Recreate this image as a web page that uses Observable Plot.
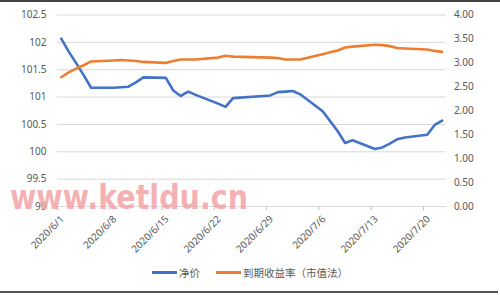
<!DOCTYPE html>
<html>
<head>
<meta charset="utf-8">
<script src="https://cdn.jsdelivr.net/npm/d3@7"></script>
<script src="https://cdn.jsdelivr.net/npm/@observablehq/plot@0.6"></script>
<style>
  body { margin: 0; background: #fff; }
  #wrap { position: relative; width: 500px; height: 295px; overflow: hidden; background: #fff; font-family: "Noto Sans CJK SC", "Noto Sans", sans-serif; }
  #topline { position: absolute; left: 0; top: 0; width: 500px; height: 1.5px; background: #444; }
  #botline { position: absolute; left: 0; top: 291px; width: 498px; height: 1.5px; background: #555; }
  #legend { position: absolute; left: 0; top: 263px; width: 500px; height: 20px; font-size: 10.5px; color: #595959; }
  .sw { position: absolute; top: 8px; width: 25px; height: 3px; }
  .lt { position: absolute; top: 0px; line-height: 19px; white-space: nowrap; }
  #wm { position: absolute; left: 0; top: 0; pointer-events: none; }
</style>
</head>
<body>
<div id="wrap">
  <div id="chart"></div>
  <div id="legend"></div>
  <div id="topline"></div>
  <div id="botline"></div>
</div>
<script>
const dates = ["2020-06-01","2020-06-02","2020-06-03","2020-06-04","2020-06-05",
  "2020-06-08","2020-06-09","2020-06-10","2020-06-11","2020-06-12",
  "2020-06-15","2020-06-16","2020-06-17","2020-06-18","2020-06-19",
  "2020-06-22","2020-06-23","2020-06-24","2020-06-29","2020-06-30",
  "2020-07-01","2020-07-02","2020-07-03","2020-07-06","2020-07-07",
  "2020-07-08","2020-07-09","2020-07-10","2020-07-13","2020-07-14",
  "2020-07-15","2020-07-16","2020-07-17","2020-07-20","2020-07-21","2020-07-22"];
const netPrice = [102.07,101.83,101.62,101.40,101.17,
  101.17,101.18,101.19,101.27,101.36,
  101.35,101.12,101.02,101.10,101.04,
  100.88,100.82,100.98,101.03,101.09,
  101.10,101.11,101.05,100.74,100.56,
  100.38,100.16,100.21,100.05,100.08,
  100.15,100.23,100.26,100.31,100.49,100.57];
const ytm = [2.70,2.80,2.88,2.95,3.03,
  3.05,3.06,3.05,3.04,3.02,
  3.00,3.04,3.07,3.07,3.07,
  3.11,3.15,3.13,3.11,3.10,
  3.07,3.07,3.07,3.18,3.22,
  3.26,3.32,3.34,3.38,3.37,
  3.35,3.31,3.30,3.28,3.25,3.23];
const leftTicks = [99,99.5,100,100.5,101,101.5,102,102.5];
const rightTicks = [0,0.5,1,1.5,2,2.5,3,3.5,4];
const xTickLabels = ["2020-06-01","2020-06-08","2020-06-15","2020-06-22","2020-06-29","2020-07-06","2020-07-13","2020-07-20"];
const seriesNames = ["净价","到期收益率（市值法）"];
const colors = ["#4472C4","#ED7D31"];

// right axis (0–4) mapped onto left axis (99–102.5)
const yMin = 99, ratio = 3.5 / 4;
const toLeft = v => yMin + v * ratio;
const noon = s => new Date(Date.parse(s + "T12:00:00Z"));
const day = s => new Date(Date.parse(s + "T00:00:00Z"));

const data = dates.map((d, i) => ({date: noon(d), price: netPrice[i], ytm: ytm[i]}));
const xTicks = xTickLabels.map(day);

const chart = Plot.plot({
  width: 500,
  height: 262,
  marginTop: 14.5,
  marginBottom: 56,
  marginLeft: 57,
  marginRight: 54.6,
  style: {fontFamily: "'Noto Sans', 'Liberation Sans', sans-serif", fontSize: "10px", color: "#595959", background: "transparent"},
  x: {type: "utc", domain: [day("2020-06-01"), day("2020-07-23")]},
  y: {domain: [99, 102.5]},
  marks: [
    Plot.gridY(leftTicks, {stroke: "#d9d9d9", strokeOpacity: 1}),
    Plot.axisY(leftTicks, {anchor: "left", tickSize: 0, tickPadding: 11, label: null, tickFormat: d => String(d), fill: "#595959"}),
    Plot.axisY(rightTicks.map(toLeft), {anchor: "right", tickSize: 0, tickPadding: 8, label: null,
      tickFormat: d => ((d - yMin) / ratio).toFixed(2), fill: "#595959"}),
    Plot.axisX(xTicks, {anchor: "bottom", tickSize: 4, label: null, stroke: "#bfbfbf", strokeOpacity: 1, tickFormat: () => ""}),
    Plot.axisX(xTicks, {anchor: "bottom", tickSize: 0, tickPadding: 2, tickRotate: -45, label: null,
      fill: "#595959", dx: 5, dy: 9,
      tickFormat: d => `${d.getUTCFullYear()}/${d.getUTCMonth() + 1}/${d.getUTCDate()}`}),
    Plot.ruleY([99], {stroke: "#d9d9d9"}),
    Plot.lineY(data, {x: "date", y: "price", stroke: colors[0], strokeWidth: 2.6}),
    Plot.lineY(data, {x: "date", y: d => toLeft(d.ytm), stroke: colors[1], strokeWidth: 2.6})
  ]
});
document.getElementById("chart").appendChild(chart);

// legend
const legend = document.getElementById("legend");
const legendPos = [[152, 179], [216, 243]];
seriesNames.forEach((name, i) => {
  const sw = document.createElement("div");
  sw.className = "sw"; sw.style.left = legendPos[i][0] + "px"; sw.style.background = colors[i];
  const t = document.createElement("div");
  t.className = "lt"; t.style.left = legendPos[i][1] + "px"; t.textContent = name;
  legend.appendChild(sw); legend.appendChild(t);
});

// watermark
const ns = "http://www.w3.org/2000/svg";
const wm = document.createElementNS(ns, "svg");
wm.setAttribute("id", "wm"); wm.setAttribute("width", 500); wm.setAttribute("height", 295);
const wt = document.createElementNS(ns, "text");
wt.setAttribute("x", 10); wt.setAttribute("y", 209);
wt.setAttribute("textLength", 238); wt.setAttribute("lengthAdjust", "spacingAndGlyphs");
wt.setAttribute("font-family", "DejaVu Sans");
wt.setAttribute("font-weight", "bold");
wt.setAttribute("font-size", 33);
wt.setAttribute("fill", "#f3a2a4");
wt.setAttribute("fill-opacity", 0.85);
wt.textContent = "www.ketldu.cn";
wm.appendChild(wt);
document.getElementById("wrap").appendChild(wm);
</script>
</body>
</html>
